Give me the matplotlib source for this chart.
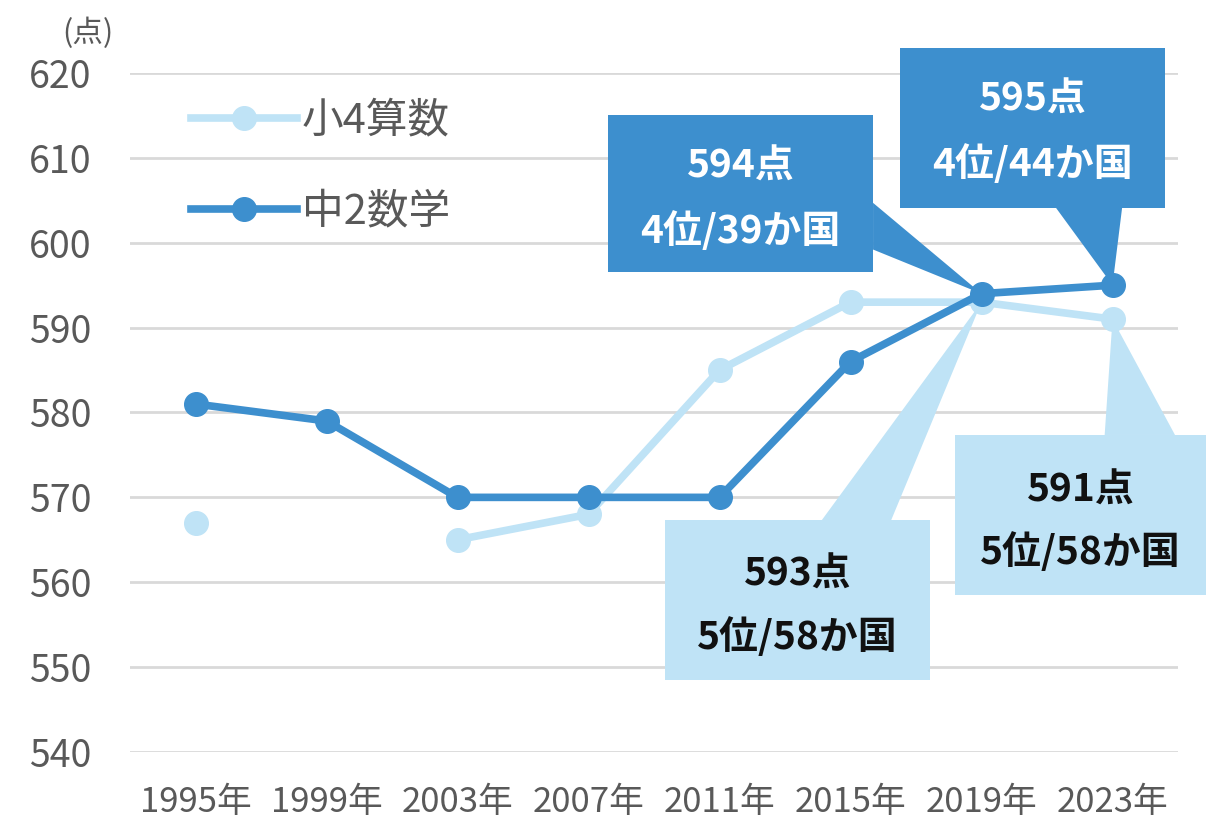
import matplotlib
matplotlib.use("Agg")
import matplotlib.pyplot as plt
from matplotlib.patches import Polygon, Rectangle
from matplotlib.lines import Line2D
import numpy as np

plt.rcParams['font.family'] = ['Noto Sans CJK JP', 'DejaVu Sans']

years = ["1995年", "1999年", "2003年", "2007年", "2011年", "2015年", "2019年", "2023年"]
elem_math = [567, np.nan, 565, 568, 585, 593, 593, 591]   # 小4算数
jhs_math = [581, 579, 570, 570, 570, 586, 594, 595]       # 中2数学
series_names = ["小4算数", "中2数学"]
yticks = [540, 550, 560, 570, 580, 590, 600, 610, 620]

# callouts: (series, year index, line1, line2)
callouts = [
    ("jhs", 6, "594点", "4位/39か国"),
    ("jhs", 7, "595点", "4位/44か国"),
    ("elem", 6, "593点", "5位/58か国"),
    ("elem", 7, "591点", "5位/58か国"),
]

DARK = "#3d8fce"
LIGHT = "#bfe3f6"
GRID = "#d9d9d9"
TICK = "#595959"

fig = plt.figure(figsize=(12.06, 8.23), dpi=100)
ax = fig.add_axes([0.1078, 0.0863, 0.869, 0.825])
x = np.arange(len(years))

ax.set_xlim(-0.5, len(years) - 0.5)
ax.set_ylim(540, 620)
ax.set_yticks(yticks)
ax.set_xticks(x)
ax.set_xticklabels(years, fontsize=25, color=TICK)
ax.set_yticklabels([str(v) for v in yticks], fontsize=27, color=TICK)
ax.tick_params(length=0)
ax.tick_params(axis='y', pad=28)
ax.tick_params(axis='x', pad=24)
for s in ax.spines.values():
    s.set_visible(False)
ax.grid(axis='y', color=GRID, linewidth=2)
ax.set_axisbelow(True)

ax.plot(x, elem_math, color=LIGHT, lw=5.5, marker='o', ms=17, zorder=3)
ax.plot(x, jhs_math, color=DARK, lw=5.5, marker='o', ms=17, zorder=4)

# callout layout (box in x-index / y-value units, wedge base x positions)
layouts = [
    dict(box=(3.149, 5.172, 596.56, 615.05), base=[(5.172, 604.7), (5.172, 599.2)], ty=(609.0, 601.4)),
    dict(box=(5.378, 7.40, 604.1, 622.95), base=[(6.569, 604.1), (7.073, 604.1)], ty=(616.9, 609.3)),
    dict(box=(3.584, 5.607, 548.5, 567.3), base=[(4.78, 567.3), (5.31, 567.3)], ty=(560.9, 553.5)),
    dict(box=(5.798, 7.714, 558.5, 577.35), base=[(6.94, 577.35), (7.477, 577.35)], ty=(570.9, 563.6)),
]
for (ser, idx, l1, l2), lay in zip(callouts, layouts):
    yv = jhs_math[idx] if ser == "jhs" else elem_math[idx]
    col = DARK if ser == "jhs" else LIGHT
    tcol = "white" if ser == "jhs" else "#111111"
    x0, x1, y0, y1 = lay['box']
    ax.add_patch(Rectangle((x0, y0), x1 - x0, y1 - y0, facecolor=col, edgecolor='none',
                           zorder=2, clip_on=False))
    ax.add_patch(Polygon(lay['base'] + [(idx, yv)], closed=True, facecolor=col,
                         edgecolor='none', zorder=2, clip_on=False))
    cx = (x0 + x1) / 2
    ax.text(cx, lay['ty'][0], l1, ha='center', va='center', fontsize=28,
            fontweight='bold', color=tcol, zorder=5, clip_on=False)
    ax.text(cx, lay['ty'][1], l2, ha='center', va='center', fontsize=28,
            fontweight='bold', color=tcol, zorder=5, clip_on=False)

handles = [Line2D([], [], color=LIGHT, lw=5.5, marker='o', ms=17),
           Line2D([], [], color=DARK, lw=5.5, marker='o', ms=17)]
leg = ax.legend(handles, series_names, loc='upper left', bbox_to_anchor=(0.022, 1.015),
                frameon=False, fontsize=30, handlelength=2.55, handletextpad=0.12,
                labelspacing=1.2, labelcolor=TICK)

fig.text(88 / 1206, 1 - 33 / 823, "(点)", fontsize=22, color=TICK, ha='center', va='center')

fig.savefig("out.png", dpi=100)
